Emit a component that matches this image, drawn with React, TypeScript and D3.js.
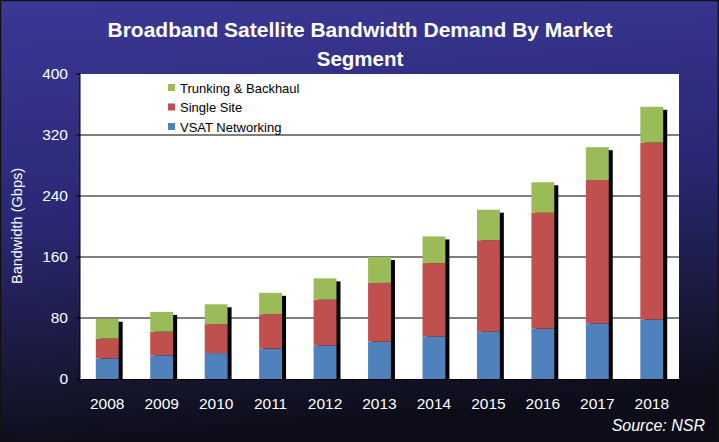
import React from "react";
import * as d3 from "d3";

const years = ["2008","2009","2010","2011","2012","2013","2014","2015","2016","2017","2018"];
const vsat = [27, 31, 34, 40, 44, 49, 56, 62, 66, 73, 78];
const singleSite = [26, 31, 38, 45, 60, 77, 96, 120, 152, 188, 232];
const trunking = [26, 26, 26, 28, 28, 34, 35, 40, 40, 43, 47];
const yTicks = [0, 80, 160, 240, 320, 400];
const seriesNames = ["VSAT Networking", "Single Site", "Trunking & Backhaul"];
const seriesColors = ["#4F81BD", "#C0504D", "#9BBB59"];

const W = 719, H = 442;
const plot = { left: 80, right: 679, top: 74, bottom: 379 };
const font = "'Liberation Sans', Arial, sans-serif";

export default function App() {
  const x = d3.scaleBand<string>().domain(years).range([plot.left, plot.right]).paddingInner(0.58).paddingOuter(0.29);
  const y = d3.scaleLinear().domain([0, 400]).range([plot.bottom, plot.top]);
  const rows = years.map((yr, i) => ({ year: yr, vsat: vsat[i], single: singleSite[i], trunk: trunking[i] }));
  const stack = d3.stack<any>().keys(["vsat", "single", "trunk"])(rows);
  const bw = x.bandwidth();
  const totals = rows.map(r => r.vsat + r.single + r.trunk);
  const step = x.step();

  return (
    <svg width={W} height={H} style={{ position: "absolute", left: 0, top: 0, display: "block" }} fontFamily={font}>
      <defs>
        <linearGradient id="bg" x1="0" y1="0" x2="0.15" y2="1">
          <stop offset="0" stopColor="#3b3896" />
          <stop offset="0.5" stopColor="#2a2874" />
          <stop offset="0.85" stopColor="#171733" />
          <stop offset="1" stopColor="#0d0d1a" />
        </linearGradient>
      </defs>
      <rect x={0} y={0} width={W} height={H} fill="url(#bg)" />
      <rect x={0.5} y={0.5} width={W - 1} height={H - 1} fill="none" stroke="#111" strokeWidth={1.5} />
      <text x={360} y={37} textAnchor="middle" fill="#fff" fontWeight="bold" fontSize={20.5} textLength={505} lengthAdjust="spacingAndGlyphs">Broadband Satellite Bandwidth Demand By Market</text>
      <text x={360} y={66} textAnchor="middle" fill="#fff" fontWeight="bold" fontSize={20.5}>Segment</text>

      <rect x={plot.left} y={plot.top} width={plot.right - plot.left} height={plot.bottom - plot.top} fill="#fff" />
      {yTicks.filter(t => t > 0 && t < 400).map(t => (
        <line key={t} x1={plot.left} x2={plot.right} y1={y(t)} y2={y(t)} stroke="#000" strokeWidth={1.2} />
      ))}

      {rows.map((r, i) => (
        <rect key={"sh" + i} x={(x(r.year) as number) + 4} y={y(totals[i]) + 3} width={bw} height={plot.bottom - y(totals[i]) - 3} fill="#000" />
      ))}
      {stack.map((s, si) => s.map((d, i) => (
        <rect key={si + "-" + i} x={x(years[i]) as number} y={y(d[1])} width={bw} height={y(d[0]) - y(d[1])} fill={seriesColors[si]} />
      )))}

      <line x1={plot.left} x2={plot.left} y1={plot.top} y2={plot.bottom} stroke="#000" strokeWidth={1} />
      <line x1={plot.left} x2={plot.right} y1={plot.bottom + 0.5} y2={plot.bottom + 0.5} stroke="#000" strokeWidth={1} />
      {yTicks.map(t => (
        <g key={t}>
          <line x1={plot.left - 4} x2={plot.left} y1={y(t)} y2={y(t)} stroke="#000" />
          <text x={68} y={y(t)} dy="0.35em" textAnchor="end" fill="#fff" fontSize={15.5}>{t}</text>
        </g>
      ))}
      {d3.range(years.length + 1).map(i => (
        <line key={"xt" + i} x1={plot.left + i * step} x2={plot.left + i * step} y1={plot.bottom} y2={plot.bottom + 4} stroke="#000" />
      ))}
      {years.map(yr => (
        <text key={yr} x={(x(yr) as number) + bw / 2} y={409} textAnchor="middle" fill="#fff" fontSize={15.5}>{yr}</text>
      ))}
      <text transform={`translate(22,226) rotate(-90)`} textAnchor="middle" fill="#fff" fontSize={14.5}>Bandwidth (Gbps)</text>
      <text x={705} y={431} textAnchor="end" fill="#fff" fontSize={16} fontStyle="italic">Source: NSR</text>

      {[2, 1, 0].map((si, k) => (
        <g key={si}>
          <rect x={168} y={84 + k * 19.5} width={7} height={7} fill={seriesColors[si]} />
          <text x={180} y={88 + k * 19.5} dy="0.35em" fill="#000" fontSize={13}>{seriesNames[si]}</text>
        </g>
      ))}
    </svg>
  );
}
